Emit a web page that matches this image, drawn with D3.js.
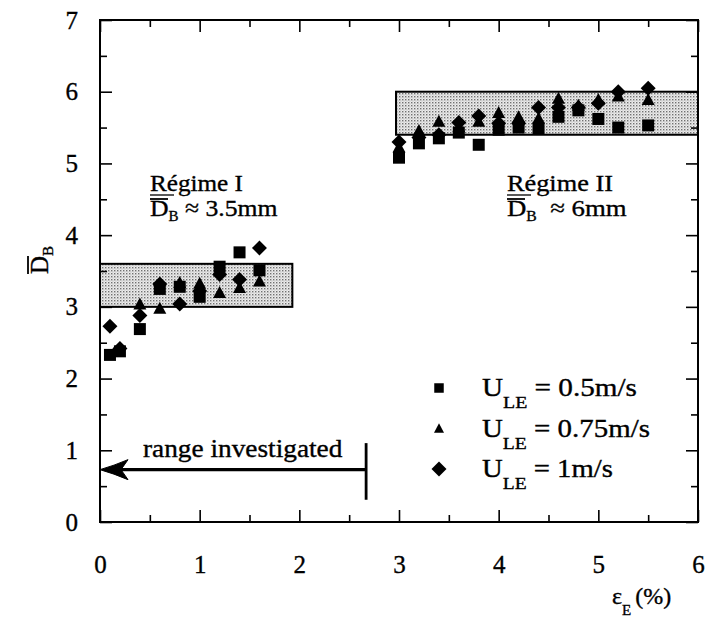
<!DOCTYPE html>
<html>
<head>
<meta charset="utf-8">
<script src="https://cdn.jsdelivr.net/npm/d3@7/dist/d3.min.js"></script>
<style>
  body { margin: 0; background: #fff; }
  text { font-family: "Liberation Serif", "Times New Roman", Tinos, serif; fill: #000;
         stroke: #000; stroke-width: 0.35px; }
</style>
</head>
<body>
<svg id="chart" width="706" height="619"></svg>
<script>
// ---- data ----------------------------------------------------------------
const xTickValues = [0, 1, 2, 3, 4, 5, 6];
const yTickValues = [0, 1, 2, 3, 4, 5, 6, 7];

// U_LE = 0.5 m/s (squares)
const epsSquare = [0.1, 0.2, 0.4, 0.6, 0.8, 1.0, 1.2, 1.4, 1.6, 3.0, 3.2, 3.4, 3.6, 3.8, 4.0, 4.2, 4.4, 4.6, 4.8, 5.0, 5.2, 5.5];
const dbSquare  = [2.33, 2.38, 2.69, 3.25, 3.28, 3.14, 3.56, 3.76, 3.51, 5.08, 5.28, 5.35, 5.43, 5.26, 5.47, 5.50, 5.49, 5.65, 5.74, 5.62, 5.50, 5.53];

// U_LE = 0.75 m/s (triangles)
const epsTriangle = [0.4, 0.6, 0.8, 1.0, 1.2, 1.4, 1.6, 3.0, 3.2, 3.4, 3.6, 3.8, 4.0, 4.2, 4.4, 4.6, 4.8, 5.0, 5.2, 5.5];
const dbTriangle  = [3.03, 2.97, 3.33, 3.32, 3.19, 3.26, 3.35, 5.22, 5.45, 5.58, 5.50, 5.58, 5.70, 5.64, 5.62, 5.90, 5.80, 5.88, 5.93, 5.88];

// U_LE = 1 m/s (diamonds)
const epsDiamond = [0.1, 0.2, 0.4, 0.6, 0.8, 1.0, 1.2, 1.4, 1.6, 3.0, 3.2, 3.4, 3.6, 3.8, 4.0, 4.2, 4.4, 4.6, 4.8, 5.0, 5.2, 5.5];
const dbDiamond  = [2.73, 2.42, 2.88, 3.32, 3.04, 3.22, 3.45, 3.38, 3.82, 5.30, 5.36, 5.40, 5.57, 5.66, 5.56, 5.56, 5.78, 5.78, 5.78, 5.84, 6.00, 6.05];

// shaded regime bands: [eps from, eps to, D_B from, D_B to]
const regimeOneBand = [0, 1.93, 3.0, 3.6];
const regimeTwoBand = [2.97, 6, 5.4, 6.0];

// investigated range of eps_E and the height of its arrow
const rangeInvestigated = [0, 2.67];
const rangeArrowLevel = 0.73;

const seriesLabels = ["= 0.5m/s", "= 0.75m/s", "= 1m/s"];

// ---- layout --------------------------------------------------------------
const svg = d3.select("#chart");
const x = d3.scaleLinear().domain([0, 6]).range([100, 698]);
const y = d3.scaleLinear().domain([0, 7]).range([522, 20]);

// stipple used inside the regime bands
const defs = svg.append("defs");
const pat = defs.append("pattern").attr("id", "stipple")
  .attr("width", 3).attr("height", 3).attr("patternUnits", "userSpaceOnUse");
pat.append("rect").attr("width", 3).attr("height", 3).attr("fill", "#ececec");
pat.append("rect").attr("width", 1.4).attr("height", 1.4).attr("fill", "#707070");
pat.append("rect").attr("x", 1.5).attr("y", 1.5).attr("width", 1).attr("height", 1).attr("fill", "#a8a8a8");

// horizontal fit for a text element: stretch about its left edge to a given width
function fitWidth(sel, width) {
  const bb = sel.node().getBBox();
  const k = width / bb.width;
  const x0 = bb.x;
  sel.attr("transform", `translate(${x0},0) scale(${k},1) translate(${-x0},0)`);
}

// ---- bands -----------------------------------------------------------------
[regimeOneBand, regimeTwoBand].forEach(b => {
  svg.append("rect")
    .attr("x", x(b[0])).attr("y", y(b[3]))
    .attr("width", x(b[1]) - x(b[0])).attr("height", y(b[2]) - y(b[3]))
    .attr("fill", "url(#stipple)").attr("stroke", "#000").attr("stroke-width", 2);
});

// ---- axes (ticks inward on all four sides) ------------------------------
const minorX = d3.range(0.5, 6, 1);
const minorY = d3.range(0.5, 7, 1);
const fontTicks = 25;

function styleAxis(g) {
  g.select(".domain").remove();
  g.selectAll(".tick line").attr("stroke", "#000").attr("stroke-width", 1.6);
  g.selectAll(".tick text").style("font-size", fontTicks + "px")
    .attr("font-family", null).attr("fill", "#000");
}

svg.append("g").attr("transform", `translate(0,${y(0)})`)
  .call(d3.axisBottom(x).tickValues(xTickValues).tickFormat(d3.format("d")).tickSize(-12).tickPadding(33))
  .call(styleAxis);
svg.append("g").attr("transform", `translate(0,${y(0)})`)
  .call(d3.axisBottom(x).tickValues(minorX).tickFormat("").tickSize(-7)).call(styleAxis);
svg.append("g").attr("transform", `translate(0,${y(7)})`)
  .call(d3.axisTop(x).tickValues(xTickValues).tickFormat("").tickSize(-12)).call(styleAxis);
svg.append("g").attr("transform", `translate(0,${y(7)})`)
  .call(d3.axisTop(x).tickValues(minorX).tickFormat("").tickSize(-7)).call(styleAxis);

svg.append("g").attr("transform", `translate(${x(0)},0)`)
  .call(d3.axisLeft(y).tickValues(yTickValues).tickFormat(d3.format("d")).tickSize(-12).tickPadding(22))
  .call(styleAxis);
svg.append("g").attr("transform", `translate(${x(0)},0)`)
  .call(d3.axisLeft(y).tickValues(minorY).tickFormat("").tickSize(-7)).call(styleAxis);
svg.append("g").attr("transform", `translate(${x(6)},0)`)
  .call(d3.axisRight(y).tickValues(yTickValues).tickFormat("").tickSize(-12)).call(styleAxis);
svg.append("g").attr("transform", `translate(${x(6)},0)`)
  .call(d3.axisRight(y).tickValues(minorY).tickFormat("").tickSize(-7)).call(styleAxis);

// frame
svg.append("rect")
  .attr("x", x(0)).attr("y", y(7))
  .attr("width", x(6) - x(0)).attr("height", y(0) - y(7))
  .attr("fill", "none").attr("stroke", "#000").attr("stroke-width", 2);

// ---- markers -------------------------------------------------------------
const squarePath = s => `M${-s / 2},${-s / 2}h${s}v${s}h${-s}Z`;
const trianglePath = (w, h) => `M0,${-h * 0.6}L${w / 2},${h * 0.4}L${-w / 2},${h * 0.4}Z`;
const diamondPath = r => `M0,${-r}L${r},0L0,${r}L${-r},0Z`;

const series = [
  { xs: epsSquare, ys: dbSquare, d: squarePath(12) },
  { xs: epsTriangle, ys: dbTriangle, d: trianglePath(13, 12) },
  { xs: epsDiamond, ys: dbDiamond, d: diamondPath(7.5) }
];
series.forEach(s => {
  svg.append("g").selectAll("path")
    .data(d3.zip(s.xs, s.ys))
    .join("path")
    .attr("d", s.d)
    .attr("transform", p => `translate(${x(p[0])},${y(p[1])})`)
    .attr("fill", "#000");
});

// ---- legend --------------------------------------------------------------
const legendMarks = [squarePath(9.5), trianglePath(10, 9.5), diamondPath(7.5)];
const legendRowY = [396, 437, 477];
const legendWidths = [155, 168, 131];
legendMarks.forEach((m, i) => {
  svg.append("path").attr("d", m)
    .attr("transform", `translate(439,${legendRowY[i] - 8})`).attr("fill", "#000");
  const t = svg.append("text").attr("x", 482).attr("y", legendRowY[i])
    .style("font-size", "25px");
  t.append("tspan").text("U");
  t.append("tspan").attr("dy", 12).style("font-size", "17px").text("LE");
  t.append("tspan").attr("dy", -12).text(" " + seriesLabels[i]);
  fitWidth(t, legendWidths[i]);
});

// ---- regime annotations ---------------------------------------------------
function regimeLabel(x0, title, value, w1, w2, gap) {
  const t1 = svg.append("text").attr("x", x0).attr("y", 191).style("font-size", "24px").text(title);
  fitWidth(t1, w1);
  svg.append("line").attr("x1", x0).attr("x2", x0 + 24).attr("y1", 195).attr("y2", 195)
    .attr("stroke", "#000").attr("stroke-width", 1.3);
  const t2 = svg.append("text").attr("x", x0).attr("y", 216).style("font-size", "24px");
  t2.append("tspan").text("D");
  t2.append("tspan").attr("dy", 5).style("font-size", "14px").text("B");
  t2.append("tspan").attr("dy", -5).attr("dx", gap).text("≈ " + value);
  fitWidth(t2, w2);
  svg.append("line").attr("x1", x0).attr("x2", x0 + 18).attr("y1", 199).attr("y2", 199)
    .attr("stroke", "#000").attr("stroke-width", 1.8);
}
regimeLabel(150, "Régime I", "3.5mm", 93, 128, 6);
regimeLabel(507, "Régime II", "6mm", 106, 120, 12);

// ---- investigated-range arrow ------------------------------------------
const ay = y(rangeArrowLevel);
const ax0 = x(rangeInvestigated[0]);
const ax1 = x(rangeInvestigated[1]);
svg.append("line").attr("x1", ax0 + 18).attr("x2", ax1).attr("y1", ay).attr("y2", ay)
  .attr("stroke", "#000").attr("stroke-width", 3.4);
svg.append("path")
  .attr("d", `M${ax0},${ay} Q${ax0 + 14},${ay - 4} ${ax0 + 28},${ay - 10} L${ax0 + 21},${ay} L${ax0 + 28},${ay + 10} Q${ax0 + 14},${ay + 4} ${ax0},${ay} Z`)
  .attr("fill", "#000").attr("stroke", "#000").attr("stroke-width", 1);
svg.append("line").attr("x1", ax1).attr("x2", ax1).attr("y1", y(1.1)).attr("y2", y(0.31))
  .attr("stroke", "#000").attr("stroke-width", 2.8);
const rt = svg.append("text").attr("x", 143).attr("y", 457).style("font-size", "25px").text("range investigated");
fitWidth(rt, 200);

// ---- axis titles ------------------------------------------------------------
const yl = svg.append("g").attr("transform", "translate(48,274) rotate(-90)");
const ylt = yl.append("text").attr("x", 0).attr("y", 0).style("font-size", "25px");
ylt.append("tspan").text("D");
ylt.append("tspan").attr("dy", 5).style("font-size", "15px").text("B");
yl.append("line").attr("x1", 0).attr("x2", 18).attr("y1", -20).attr("y2", -20)
  .attr("stroke", "#000").attr("stroke-width", 1.8);

const xl = svg.append("text").attr("x", 612).attr("y", 604).style("font-size", "24px");
xl.append("tspan").text("ε");
xl.append("tspan").attr("dy", 11).style("font-size", "15px").text("E");
xl.append("tspan").attr("dy", -11).attr("dx", 4).text("(%)");
</script>
</body>
</html>
